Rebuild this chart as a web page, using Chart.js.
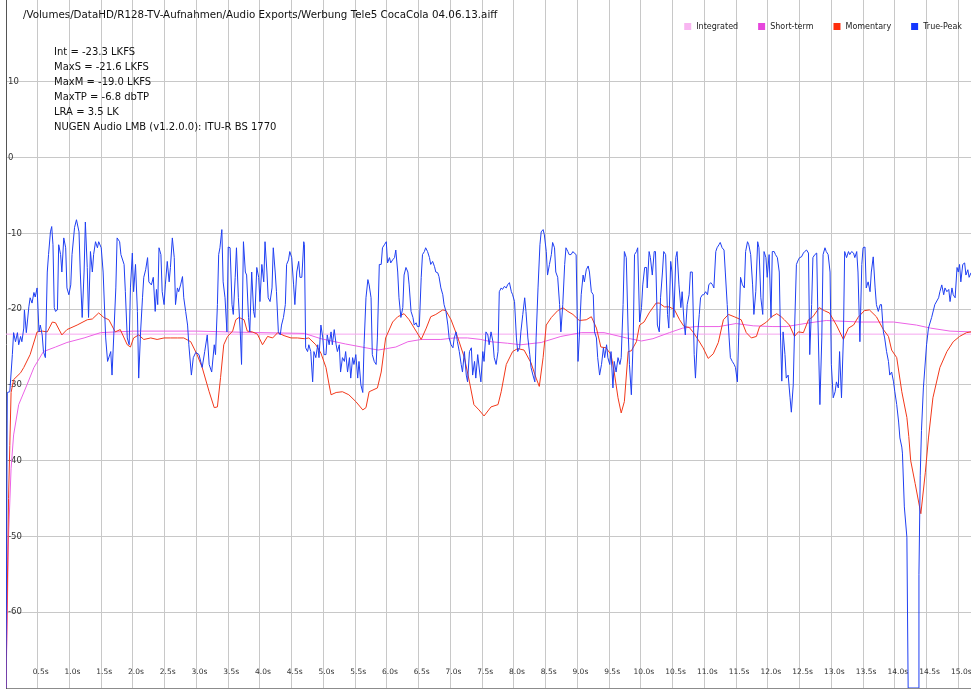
<!DOCTYPE html>
<html>
<head>
<meta charset="utf-8">
<script src="https://cdn.jsdelivr.net/npm/chart.js@4.4.1/dist/chart.umd.min.js"></script>
<style>
  html, body { margin: 0; padding: 0; background: #fff; }
  canvas { display: block; }
</style>
</head>
<body>
<canvas id="lmbChart" width="971" height="689"></canvas>
<script>
const fileName = '/Volumes/DataHD/R128-TV-Aufnahmen/Audio Exports/Werbung Tele5 CocaCola 04.06.13.aiff';
const statLines = [
  'Int = -23.3 LKFS',
  'MaxS = -21.6 LKFS',
  'MaxM = -19.0 LKFS',
  'MaxTP = -6.8 dbTP',
  'LRA = 3.5 LK',
  'NUGEN Audio LMB (v1.2.0.0): ITU-R BS 1770'
];
const seriesNames = ['Integrated', 'Short-term', 'Momentary', 'True-Peak'];
const xTicks = [0.5, 1, 1.5, 2, 2.5, 3, 3.5, 4, 4.5, 5, 5.5, 6, 6.5, 7, 7.5, 8, 8.5, 9, 9.5, 10, 10.5, 11, 11.5, 12, 12.5, 13, 13.5, 14, 14.5, 15];
const yTicks = [10, 0, -10, -20, -30, -40, -50, -60];

// integrated loudness (flat final value)
const intTimes = [0, 15.2];
const intValues = [-23.3, -23.3];

// short-term loudness
const stTimes = [0, 0.04, 0.08, 0.12, 0.2, 0.33, 0.44, 0.59, 0.78, 0.96, 1.23, 1.49, 2.0, 3.0, 4.0, 4.7, 4.96, 5.35, 5.86, 6.14, 6.33, 6.54, 6.85, 7.06, 7.27, 7.48, 7.64, 7.9, 8.11, 8.43, 8.74, 9.06, 9.42, 9.77, 10.01, 10.19, 10.45, 10.66, 10.87, 11.23, 11.5, 11.77, 12.08, 12.29, 12.66, 12.92, 13.45, 13.98, 14.34, 14.56, 14.87, 15.2];
const stValues = [-70, -50, -41, -36.6, -32.6, -30, -27.7, -25.6, -25, -24.4, -23.8, -23.1, -22.9, -22.9, -23.1, -23.2, -23.9, -24.6, -25.4, -25, -24.3, -24, -24, -23.8, -23.8, -24, -24.3, -24.5, -24.7, -24.4, -23.6, -23.1, -23.1, -23.8, -24.2, -23.9, -23.1, -22.5, -22.3, -22.3, -21.9, -22.2, -22.3, -22.3, -21.8, -21.5, -21.7, -21.7, -22.1, -22.5, -22.9, -23];

// momentary loudness
const momTimes = [0, 0.04, 0.06, 0.08, 0.12, 0.23, 0.28, 0.38, 0.49, 0.57, 0.65, 0.73, 0.78, 0.88, 0.96, 1.12, 1.28, 1.36, 1.46, 1.54, 1.62, 1.72, 1.8, 1.91, 1.96, 2.01, 2.09, 2.17, 2.28, 2.38, 2.49, 2.59, 2.7, 2.8, 2.91, 3.01, 3.09, 3.2, 3.28, 3.33, 3.38, 3.43, 3.49, 3.57, 3.62, 3.67, 3.75, 3.8, 3.88, 3.96, 4.04, 4.12, 4.2, 4.28, 4.38, 4.49, 4.59, 4.7, 4.77, 4.88, 4.96, 5.04, 5.09, 5.12, 5.2, 5.3, 5.4, 5.51, 5.62, 5.67, 5.72, 5.85, 5.91, 5.98, 6.09, 6.17, 6.27, 6.35, 6.43, 6.54, 6.62, 6.69, 6.77, 6.88, 6.93, 7.01, 7.11, 7.22, 7.3, 7.37, 7.45, 7.53, 7.64, 7.75, 7.8, 7.88, 7.98, 8.06, 8.16, 8.27, 8.35, 8.4, 8.46, 8.51, 8.59, 8.69, 8.77, 8.85, 8.93, 9.03, 9.14, 9.22, 9.3, 9.37, 9.45, 9.53, 9.58, 9.64, 9.69, 9.74, 9.8, 9.85, 9.93, 9.98, 10.05, 10.13, 10.24, 10.29, 10.37, 10.45, 10.53, 10.61, 10.68, 10.76, 10.82, 10.9, 10.98, 11.06, 11.14, 11.22, 11.3, 11.38, 11.47, 11.58, 11.66, 11.74, 11.82, 11.87, 11.98, 12.06, 12.14, 12.21, 12.26, 12.34, 12.42, 12.48, 12.56, 12.64, 12.71, 12.81, 12.89, 12.97, 13.08, 13.19, 13.27, 13.35, 13.42, 13.52, 13.6, 13.71, 13.82, 13.9, 13.95, 14.03, 14.11, 14.19, 14.22, 14.25, 14.32, 14.41, 14.48, 14.53, 14.6, 14.71, 14.82, 14.92, 15.02, 15.13, 15.2];
const momValues = [-70, -45, -38, -31, -29.3, -28.4, -27.7, -26, -23, -22.9, -23, -21.7, -21.8, -23.4, -22.7, -22.1, -21.4, -21.3, -20.5, -21.1, -21.4, -23, -22.7, -24.7, -25, -23.8, -23.4, -24, -23.8, -24, -23.8, -23.8, -23.8, -23.8, -24.3, -26, -27.7, -30.9, -33, -32.9, -29, -24.7, -23.6, -22.9, -21.4, -21.1, -21.4, -22.9, -23, -23.3, -24.7, -23.6, -23.8, -23.1, -23.5, -23.8, -23.8, -23.9, -23.8, -24.7, -25.8, -27.7, -30, -31.3, -31, -30.9, -31.3, -32.2, -33.3, -33, -30.9, -30.4, -28.3, -23.8, -21.7, -21, -20.6, -21.4, -22.5, -24, -22.5, -21, -20.7, -20.1, -20.2, -21.4, -23.6, -26.4, -29.6, -32.6, -33.3, -34.1, -32.9, -32.6, -30.9, -27.3, -25.6, -25.2, -25.4, -27.1, -29.1, -30.2, -26.4, -22.1, -21.1, -20.2, -19.8, -20.3, -20.7, -21.5, -21.4, -21, -22.5, -25, -25.1, -26, -28.3, -31.7, -33.7, -32.2, -25.6, -25.5, -24.3, -22.1, -21.7, -20.5, -19.2, -19.2, -19.7, -19.7, -20.1, -21.4, -22.3, -22.4, -23, -24, -25.1, -26.5, -25.9, -24.4, -21.4, -20.7, -21, -21.4, -23.1, -23.8, -23.6, -22.3, -21.7, -21, -20.6, -21, -21.4, -22.1, -23.6, -23, -23.1, -21.4, -21, -19.8, -20.2, -20.5, -22.1, -24, -22.5, -22.1, -21.1, -20.2, -20.1, -21, -22.7, -23.6, -25.4, -26.4, -30.9, -34.3, -36.8, -40, -43, -47, -41.6, -37, -31.7, -27.7, -25.6, -24.3, -23.6, -23.1, -23];

// true-peak level
const tpTimes = [0, 0.02, 0.06, 0.1, 0.12, 0.15, 0.18, 0.2, 0.23, 0.25, 0.28, 0.29, 0.32, 0.36, 0.38, 0.41, 0.44, 0.46, 0.49, 0.52, 0.54, 0.57, 0.59, 0.62, 0.65, 0.67, 0.7, 0.72, 0.74, 0.76, 0.78, 0.81, 0.83, 0.86, 0.88, 0.91, 0.94, 0.96, 0.99, 1.02, 1.04, 1.08, 1.11, 1.15, 1.17, 1.2, 1.23, 1.25, 1.28, 1.3, 1.33, 1.36, 1.38, 1.41, 1.44, 1.46, 1.5, 1.53, 1.57, 1.6, 1.65, 1.67, 1.7, 1.73, 1.75, 1.79, 1.81, 1.86, 1.88, 1.91, 1.94, 1.96, 1.99, 2.01, 2.04, 2.07, 2.09, 2.12, 2.15, 2.17, 2.2, 2.23, 2.25, 2.29, 2.32, 2.35, 2.37, 2.39, 2.41, 2.44, 2.46, 2.49, 2.51, 2.54, 2.57, 2.59, 2.62, 2.65, 2.67, 2.7, 2.72, 2.75, 2.78, 2.8, 2.83, 2.86, 2.88, 2.92, 2.95, 2.99, 3.04, 3.09, 3.13, 3.17, 3.2, 3.24, 3.28, 3.3, 3.33, 3.35, 3.37, 3.4, 3.42, 3.45, 3.48, 3.5, 3.53, 3.56, 3.58, 3.61, 3.63, 3.66, 3.69, 3.71, 3.74, 3.77, 3.79, 3.82, 3.84, 3.87, 3.9, 3.92, 3.95, 3.98, 4.0, 4.03, 4.06, 4.08, 4.11, 4.13, 4.16, 4.19, 4.21, 4.24, 4.26, 4.29, 4.32, 4.34, 4.37, 4.4, 4.42, 4.45, 4.47, 4.5, 4.53, 4.55, 4.58, 4.61, 4.63, 4.66, 4.69, 4.7, 4.72, 4.75, 4.77, 4.8, 4.83, 4.85, 4.88, 4.91, 4.93, 4.96, 4.99, 5.01, 5.04, 5.06, 5.09, 5.12, 5.14, 5.17, 5.2, 5.22, 5.25, 5.27, 5.3, 5.33, 5.35, 5.38, 5.41, 5.43, 5.46, 5.48, 5.51, 5.54, 5.56, 5.59, 5.62, 5.64, 5.67, 5.7, 5.72, 5.75, 5.77, 5.8, 5.83, 5.85, 5.88, 5.91, 5.93, 5.96, 5.99, 6.01, 6.04, 6.06, 6.09, 6.12, 6.14, 6.17, 6.19, 6.22, 6.25, 6.27, 6.3, 6.33, 6.35, 6.38, 6.41, 6.43, 6.46, 6.48, 6.51, 6.54, 6.56, 6.59, 6.61, 6.64, 6.67, 6.69, 6.72, 6.75, 6.77, 6.8, 6.82, 6.85, 6.88, 6.9, 6.93, 6.96, 6.98, 7.01, 7.04, 7.06, 7.09, 7.11, 7.14, 7.17, 7.19, 7.22, 7.25, 7.27, 7.3, 7.33, 7.35, 7.38, 7.4, 7.43, 7.46, 7.48, 7.51, 7.53, 7.56, 7.59, 7.61, 7.64, 7.67, 7.69, 7.72, 7.75, 7.77, 7.8, 7.82, 7.85, 7.88, 7.9, 7.93, 7.96, 7.98, 8.01, 8.04, 8.06, 8.09, 8.11, 8.14, 8.17, 8.19, 8.22, 8.25, 8.27, 8.3, 8.33, 8.35, 8.38, 8.41, 8.43, 8.46, 8.48, 8.51, 8.53, 8.56, 8.59, 8.61, 8.64, 8.66, 8.69, 8.72, 8.74, 8.77, 8.8, 8.82, 8.85, 8.87, 8.9, 8.93, 8.95, 8.98, 9.01, 9.03, 9.06, 9.09, 9.11, 9.14, 9.17, 9.19, 9.22, 9.25, 9.27, 9.3, 9.32, 9.35, 9.38, 9.41, 9.43, 9.46, 9.48, 9.51, 9.53, 9.56, 9.58, 9.61, 9.64, 9.67, 9.69, 9.72, 9.74, 9.77, 9.8, 9.82, 9.85, 9.88, 9.9, 9.93, 9.95, 9.98, 10.01, 10.03, 10.06, 10.09, 10.1, 10.13, 10.15, 10.18, 10.21, 10.23, 10.26, 10.29, 10.31, 10.34, 10.36, 10.39, 10.42, 10.44, 10.47, 10.49, 10.52, 10.55, 10.57, 10.6, 10.63, 10.65, 10.68, 10.7, 10.73, 10.76, 10.78, 10.81, 10.84, 10.86, 10.89, 10.92, 10.94, 10.97, 10.99, 11.02, 11.05, 11.07, 11.1, 11.13, 11.15, 11.18, 11.2, 11.23, 11.25, 11.28, 11.31, 11.33, 11.36, 11.39, 11.41, 11.44, 11.47, 11.49, 11.52, 11.54, 11.57, 11.6, 11.63, 11.65, 11.68, 11.7, 11.73, 11.76, 11.78, 11.81, 11.84, 11.86, 11.89, 11.92, 11.94, 11.97, 11.99, 12.02, 12.05, 12.07, 12.1, 12.12, 12.15, 12.18, 12.2, 12.22, 12.24, 12.27, 12.29, 12.32, 12.35, 12.37, 12.4, 12.42, 12.45, 12.48, 12.5, 12.53, 12.56, 12.58, 12.61, 12.64, 12.66, 12.69, 12.71, 12.74, 12.77, 12.79, 12.82, 12.85, 12.87, 12.9, 12.92, 12.95, 12.98, 13.0, 13.03, 13.06, 13.08, 13.11, 13.13, 13.16, 13.19, 13.21, 13.24, 13.27, 13.29, 13.32, 13.35, 13.37, 13.4, 13.42, 13.45, 13.48, 13.5, 13.53, 13.55, 13.58, 13.61, 13.63, 13.66, 13.69, 13.71, 13.74, 13.77, 13.79, 13.82, 13.84, 13.87, 13.9, 13.92, 13.95, 13.98, 14.0, 14.03, 14.06, 14.08, 14.11, 14.12, 14.15, 14.19, 14.21, 14.37, 14.38, 14.4, 14.42, 14.45, 14.5, 14.53, 14.58, 14.63, 14.69, 14.71, 14.74, 14.77, 14.79, 14.82, 14.85, 14.87, 14.9, 14.92, 14.95, 14.98, 15.0, 15.02, 15.04, 15.07, 15.1, 15.12, 15.15, 15.17, 15.2];
const tpValues = [-70, -31, -30.9, -26, -23.1, -24.3, -23.1, -24.7, -23.6, -24.3, -22.5, -20.1, -23.1, -19.7, -18.5, -19.2, -17.8, -18.4, -17.2, -23, -22.1, -23.4, -25.6, -26.4, -15.1, -12.8, -9.8, -9.1, -11.5, -19.8, -20.3, -20.1, -11.5, -12.8, -15.1, -10.6, -11.9, -17.2, -18.1, -16.8, -12.8, -9.2, -8.2, -9.8, -15.1, -21.1, -15.1, -8.5, -14.5, -21.1, -12.4, -15.1, -12.8, -11.1, -11.9, -11.1, -11.9, -15.1, -23.8, -26.9, -25.6, -28.7, -23, -17.2, -10.6, -11.1, -12.8, -14.1, -17.7, -23.8, -24.7, -17.2, -12.6, -17.7, -14.1, -20.3, -29.1, -23, -18.5, -15.8, -14.8, -13.2, -16.4, -16.8, -15.8, -20.3, -17.4, -19.4, -11.9, -12.8, -17.7, -19.4, -16.8, -13.7, -16.4, -14.5, -10.6, -13.2, -19.4, -17.2, -17.7, -16.8, -15.7, -18.5, -20.3, -22.1, -24.7, -28.7, -26.4, -25.7, -26, -27.7, -25.6, -23.4, -27.3, -28.3, -24.7, -26, -19.4, -12.8, -11.9, -9.5, -16.4, -18.5, -23, -11.8, -11.9, -19.4, -20.7, -15.8, -11.9, -18.5, -23, -27.3, -11.1, -15.1, -15.5, -21.1, -23, -15.1, -20.3, -21.1, -14.5, -15.8, -19, -14.1, -16.4, -11.1, -15.1, -18.5, -19, -17.2, -11.9, -15.1, -17.7, -23, -23.4, -22.1, -21.1, -19.4, -14.1, -13.5, -12.4, -13.2, -16.8, -19.4, -15.1, -13.7, -15.8, -15.8, -11.1, -11.5, -25.1, -25.6, -24.7, -25.6, -29.6, -25.6, -26.4, -24.7, -26.4, -22.1, -23.8, -26, -26, -23.4, -24.7, -23, -24.7, -22.7, -24.7, -25.6, -24.7, -28.3, -26.4, -26.9, -25.6, -28.3, -26.4, -29.1, -26.4, -27.3, -26, -29.1, -26.9, -30, -31, -24.7, -18.5, -16.1, -16.8, -18.5, -26, -26.9, -27.3, -23.8, -14.1, -14.1, -11.9, -11.5, -11.1, -13.9, -13.2, -13.9, -13.5, -13.2, -12.2, -15.1, -18.5, -21.1, -19.8, -15.5, -14.5, -15.1, -16.8, -20.3, -21.1, -22.1, -21.8, -22.3, -22.3, -15.8, -12.8, -12.4, -11.9, -12.4, -13.2, -14.1, -13.7, -14.4, -15.1, -15.2, -15.7, -17.2, -18.1, -19.4, -20.3, -22.1, -23.8, -24.7, -25.1, -23.8, -23, -24.3, -25.6, -27.3, -28.3, -25.6, -28.7, -29.6, -25.6, -25.1, -28.7, -26.9, -29.1, -26, -28.3, -29.6, -25.6, -26.9, -23, -23.4, -24.7, -23, -24.3, -26.4, -27.3, -25.6, -17.7, -17.2, -17.4, -17, -17.2, -16.8, -16.5, -17.7, -18.1, -19, -23.8, -25.6, -25.1, -23, -20.7, -18.5, -20.3, -23.8, -26, -27.7, -28.7, -29.6, -23.8, -17.2, -11.5, -9.8, -9.5, -10.2, -12.4, -15.5, -14.1, -12.8, -11.2, -11.9, -15.1, -15.8, -19.4, -23, -19.4, -14.1, -11.9, -12.4, -12.8, -12.8, -12.4, -12.6, -12.8, -26.9, -23.8, -18.1, -15.5, -16.4, -14.8, -14.3, -15.1, -17.7, -18.1, -23, -23.8, -26.4, -28.7, -27.3, -25.1, -26.4, -24.7, -26.4, -27.3, -25.6, -30.4, -26.9, -28.3, -26.4, -27.3, -26.4, -19.4, -12.4, -13.2, -23, -27.3, -31.3, -23.8, -12.8, -12.4, -11.9, -21.7, -19.8, -16.8, -14.5, -14.5, -17.2, -12.4, -13.2, -15.5, -12.4, -12.4, -22.1, -23, -18.5, -15.1, -12.4, -12.8, -20.7, -22.5, -13.7, -15.1, -21.1, -13.2, -12.4, -16.8, -19.8, -17.7, -21.7, -23.4, -19.4, -18.1, -15.1, -15.1, -26, -29.1, -23.8, -20.7, -18.5, -18.1, -18.1, -17.7, -18.1, -16.8, -16.5, -16.8, -17.2, -12.4, -11.9, -11.5, -11.2, -11.9, -12.2, -15.1, -19.4, -23.8, -26.4, -26.9, -27.3, -27.7, -29.6, -23.8, -15.8, -16.8, -17.2, -12.4, -11.1, -11.5, -12.8, -16.8, -20.7, -17.7, -11.1, -11.9, -18.5, -20.7, -12.4, -13.2, -15.8, -12.8, -21.1, -12.4, -12.4, -12.8, -13.2, -15.1, -23.8, -29.5, -23, -26, -29.1, -28.7, -31.7, -33.6, -30, -23, -14.1, -13.5, -13.2, -13.1, -12.6, -12.4, -12.2, -12.6, -26, -19.4, -13.2, -12.8, -12.6, -21.7, -32.6, -23.8, -12.8, -11.9, -12.4, -12.8, -15.1, -27.3, -31.7, -30.9, -29.6, -30.4, -25.6, -31.7, -23.8, -12.4, -13.2, -12.4, -12.8, -12.4, -12.6, -13.2, -12.4, -15.1, -24.3, -14.1, -11.9, -11.8, -17.2, -16.4, -17.7, -15.1, -13.1, -17.2, -19.4, -20.3, -19.4, -19.4, -23, -23.8, -25.6, -26.9, -28.7, -28.3, -29.6, -30.9, -32.6, -34.9, -37, -38.2, -39, -46.1, -50.1, -70, -70, -55, -42, -36, -30.4, -24.7, -22.5, -21.1, -19.4, -18.5, -17.7, -16.8, -18.1, -17.2, -17.7, -17.4, -19, -17.2, -18.1, -18.5, -14.5, -15.1, -14.1, -16.4, -14.1, -13.9, -15.5, -14.8, -15.8, -15.2];

const toPoints = (times, values) => times.map((t, i) => ({ x: t, y: values[i] }));

const textFont = '"DejaVu Sans", "Liberation Sans", sans-serif';

// keep the plot area flush with the canvas edges
const flushScale = (s, horizontal) => {
  if (horizontal) s.height = 0; else s.width = 0;
  s.paddingTop = 0;
  s.paddingBottom = 0;
  s.paddingLeft = 0;
  s.paddingRight = 0;
};

const lmbText = {
  id: 'lmbText',
  afterDraw(chart) {
    const ctx = chart.ctx;
    ctx.save();
    ctx.textBaseline = 'middle';
    ctx.textAlign = 'left';
    ctx.fillStyle = '#111';
    ctx.font = '10.3px ' + textFont;
    ctx.fillText(fileName, 23, 15);
    ctx.font = '10px ' + textFont;
    statLines.forEach((line, i) => ctx.fillText(line, 54, 52 + i * 15));

    // legend, right aligned at the top
    ctx.font = '8px ' + textFont;
    const sets = chart.data.datasets;
    const widths = sets.map(d => 12 + ctx.measureText(d.label).width);
    const total = widths.reduce((a, b) => a + b, 0) + 20 * (sets.length - 1);
    let x = 962 - total;
    sets.forEach((d, i) => {
      ctx.fillStyle = d.backgroundColor;
      ctx.fillRect(x, 23, 7, 7);
      ctx.fillStyle = '#222';
      ctx.fillText(d.label, x + 12, 26.5);
      x += widths[i] + 20;
    });
    ctx.restore();
  }
};

const lmbChart = new Chart(document.getElementById('lmbChart'), {
  type: 'line',
  data: {
    datasets: [{
      label: seriesNames[0],
      data: toPoints(intTimes, intValues),
      borderColor: '#f6a6f0',
      backgroundColor: '#f8b6f1',
      order: 4
    }, {
      label: seriesNames[1],
      data: toPoints(stTimes, stValues),
      borderColor: '#ec62e6',
      backgroundColor: '#e646dc',
      order: 3
    }, {
      label: seriesNames[2],
      data: toPoints(momTimes, momValues),
      borderColor: '#f2381a',
      backgroundColor: '#ff2d0c',
      order: 2
    }, {
      label: seriesNames[3],
      data: toPoints(tpTimes, tpValues),
      borderColor: '#1f3ff2',
      backgroundColor: '#1537ff',
      order: 1
    }]
  },
  options: {
    responsive: false,
    animation: false,
    devicePixelRatio: 1,
    layout: { padding: { left: 6, right: 0, top: 0, bottom: 1 } },
    elements: {
      point: { radius: 0 },
      line: { borderWidth: 1, tension: 0, fill: false }
    },
    plugins: {
      legend: { display: false },
      tooltip: { enabled: false }
    },
    scales: {
      x: {
        type: 'linear',
        min: 0,
        max: 15.2,
        afterBuildTicks: s => { s.ticks = xTicks.map(v => ({ value: v })); },
        afterFit: s => flushScale(s, true),
        grid: { color: '#c8c8c8', drawTicks: false },
        border: { color: '#8c8c8c' },
        ticks: {
          mirror: true,
          padding: 11.5,
          labelOffset: 3,
          autoSkip: false,
          maxRotation: 0,
          color: '#333',
          font: { family: textFont, size: 7.5 },
          callback: v => v.toFixed(1) + 's'
        }
      },
      y: {
        min: -70,
        max: 20.8,
        afterBuildTicks: s => { s.ticks = yTicks.map(v => ({ value: v })); },
        afterFit: s => flushScale(s, false),
        grid: { color: '#c8c8c8', drawTicks: false },
        border: { color: '#555' },
        ticks: {
          mirror: true,
          padding: 2,
          color: '#333',
          font: { family: textFont, size: 8.5 },
          callback: v => String(v)
        }
      }
    }
  },
  plugins: [lmbText]
});
</script>
</body>
</html>
